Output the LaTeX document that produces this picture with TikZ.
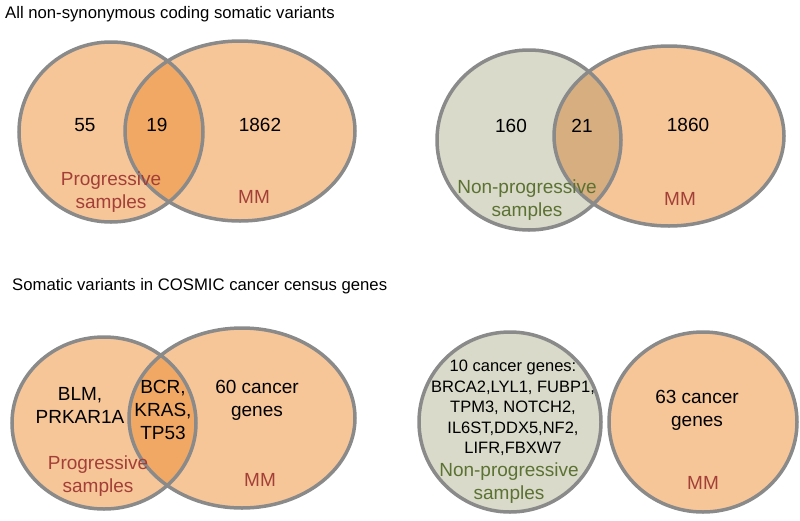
\documentclass[tikz,border=0pt]{standalone}
\usepackage{fontspec}
\setmainfont{Liberation Sans}
\definecolor{peach}{HTML}{F6C699}
\definecolor{lensorange}{HTML}{F0A864}
\definecolor{sage}{HTML}{D9DACA}
\definecolor{lensmix}{HTML}{D6AE7F}
\definecolor{ringgray}{HTML}{8A8A8A}
\definecolor{labred}{HTML}{A33F37}
\definecolor{labgreen}{HTML}{5B7233}
\begin{document}
\begin{tikzpicture}[x=1pt, y=-1pt,
  ring/.style={draw=ringgray, line width=3.5pt},
  count/.style={font=\fontsize{19}{23}\selectfont, align=center, inner sep=0pt},
  redlab/.style={count, text=labred},
  greenlab/.style={count, text=labgreen},
  genelist/.style={font=\fontsize{16.5}{20.5}\selectfont, align=center, inner sep=0pt},
  heading/.style={font=\fontsize{16.7}{19}\selectfont, anchor=west, inner sep=0pt}]
  \useasboundingbox (0,0) rectangle (800,520);

  % first row: all variants
  \node[heading] (allvar) at (5,14) {All non-synonymous coding somatic variants};

  % progressive vs MM
  \fill[peach] (111,132) ellipse [x radius=92, y radius=90];
  \fill[peach] (240,131) ellipse [x radius=115, y radius=90];
  \begin{scope}
    \clip (111,132) ellipse [x radius=92, y radius=90];
    \fill[lensorange] (240,131) ellipse [x radius=115, y radius=90];
  \end{scope}
  \draw[ring] (111,132) ellipse [x radius=92, y radius=90];
  \draw[ring] (240,131) ellipse [x radius=115, y radius=90];
  \node[count] (pOnly) at (85,125) {55};
  \node[count] (pBoth) at (157,125) {19};
  \node[count] (pMM) at (260,125) {1862};
  \node[redlab] (pLab) at (111,192) {Progressive\\samples};
  \node[redlab] (pMMlab) at (254,197) {MM};

  % non-progressive vs MM
  \fill[sage] (529,140) ellipse [x radius=92, y radius=90];
  \fill[peach] (669,136) ellipse [x radius=115, y radius=90];
  \begin{scope}
    \clip (529,140) ellipse [x radius=92, y radius=90];
    \fill[lensmix] (669,136) ellipse [x radius=115, y radius=90];
  \end{scope}
  \draw[ring] (529,140) ellipse [x radius=92, y radius=90];
  \draw[ring] (669,136) ellipse [x radius=115, y radius=90];
  \node[count] (nOnly) at (511,126) {160};
  \node[count] (nBoth) at (582,126) {21};
  \node[count] (nMM) at (688,125) {1860};
  \node[greenlab] (nLab) at (527,200) {Non-progressive\\samples};
  \node[redlab] (nMMlab) at (680,199) {MM};

  % second row: cancer census genes
  \node[heading] (cosmic) at (12,286) {Somatic variants in COSMIC cancer census genes};

  % progressive vs MM
  \fill[peach] (104,423) ellipse [x radius=92, y radius=86];
  \fill[peach] (242,418) ellipse [x radius=113, y radius=90];
  \begin{scope}
    \clip (104,423) ellipse [x radius=92, y radius=86];
    \fill[lensorange] (242,418) ellipse [x radius=113, y radius=90];
  \end{scope}
  \draw[ring] (104,423) ellipse [x radius=92, y radius=86];
  \draw[ring] (242,418) ellipse [x radius=113, y radius=90];
  \node[count] (gOnly) at (80,405) {BLM,\\PRKAR1A};
  \node[count] (gBoth) at (163,410) {BCR,\\KRAS,\\TP53};
  \node[count] (gMM) at (257,400) {60 cancer\\genes};
  \node[redlab] (gLab) at (98,476) {Progressive\\samples};
  \node[redlab] (gMMlab) at (260,480) {MM};

  % non-progressive and MM, no overlap
  \fill[sage] (510,422) ellipse [x radius=91, y radius=90];
  \fill[peach] (703,422) ellipse [x radius=94, y radius=90];
  \draw[ring] (510,422) ellipse [x radius=91, y radius=90];
  \draw[ring] (703,422) ellipse [x radius=94, y radius=90];
  \node[genelist] (ngList) at (513,408) {10 cancer genes:\\BRCA2,LYL1, FUBP1,\\TPM3, NOTCH2,\\IL6ST,DDX5,NF2,\\LIFR,FBXW7};
  \node[greenlab] (ngLab) at (509,483) {Non-progressive\\samples};
  \node[count] (ngMM) at (697,410) {63 cancer\\genes};
  \node[redlab] (ngMMlab) at (703,483) {MM};
\end{tikzpicture}
\end{document}
